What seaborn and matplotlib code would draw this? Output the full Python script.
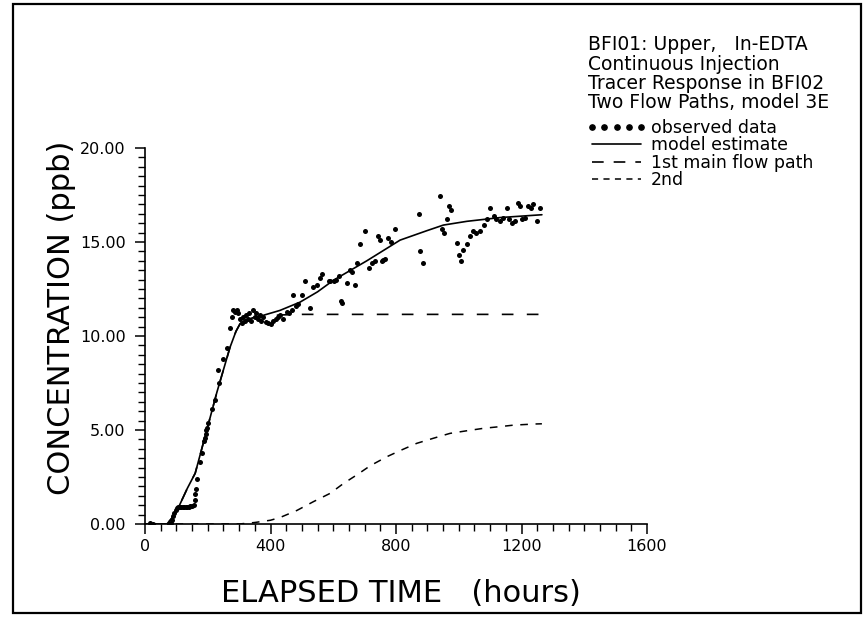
import numpy as np
import pandas as pd
import seaborn as sns
import matplotlib
matplotlib.use("Agg")
import matplotlib.pyplot as plt
from matplotlib.lines import Line2D
from matplotlib.patches import Rectangle
from matplotlib.ticker import MultipleLocator, FormatStrFormatter
import matplotlib.font_manager as fm

# ---------------- data ----------------
obs_hours = [16, 24, 78, 82, 86, 90, 94, 98, 102, 106, 110, 115, 120, 125, 130, 135, 140,
             145, 150, 155, 158, 160, 162, 165, 175, 181, 188, 191, 194, 196, 198, 202,
             213, 223, 232, 236, 250, 260, 271, 278, 282, 287, 292, 297, 303, 308, 313,
             318, 323, 328, 333, 338, 345, 350, 355, 360, 365, 370, 377, 385, 393, 400,
             409, 418, 425, 430, 440, 452, 460, 468, 473, 480, 489, 500, 510, 526, 537,
             548, 558, 563, 585, 590, 601, 610, 617, 625, 629, 643, 654, 660, 670, 675,
             686, 702, 713, 723, 733, 744, 748, 755, 760, 766, 776, 785, 797, 872, 877,
             886, 939, 947, 952, 963, 970, 975, 994, 1002, 1007, 1015, 1026, 1037, 1047,
             1055, 1069, 1080, 1090, 1100, 1111, 1120, 1132, 1142, 1153, 1160, 1169,
             1180, 1190, 1195, 1201, 1210, 1222, 1230, 1238, 1249, 1258]
obs_conc = [0.05, 0.0, 0.0, 0.05, 0.2, 0.4, 0.6, 0.75, 0.85, 0.9, 0.92, 0.9, 0.92, 0.9, 0.92,
            0.9, 0.93, 0.95, 0.95, 1.0, 1.3, 1.6, 1.85, 2.4, 3.3, 3.8, 4.4, 4.6, 4.8, 5.0,
            5.1, 5.35, 6.1, 6.6, 8.2, 7.5, 8.8, 9.35, 10.4, 11.0, 11.4, 11.3, 11.4, 11.2,
            10.9, 10.7, 11.0, 10.8, 11.1, 10.9, 11.2, 10.8, 11.4, 11.0, 11.2, 10.9, 11.1,
            10.8, 11.0, 10.75, 10.7, 10.65, 10.8, 10.9, 11.0, 11.1, 10.9, 11.3, 11.2, 11.4,
            12.2, 11.6, 11.7, 12.2, 12.95, 11.5, 12.6, 12.7, 13.1, 13.3, 12.9, 12.95, 12.9,
            13.0, 13.2, 11.85, 11.75, 12.8, 13.5, 13.4, 12.7, 13.9, 14.9, 15.6, 13.6, 13.9,
            14.0, 15.3, 15.1, 14.0, 14.05, 14.1, 15.2, 15.0, 15.7, 16.5, 14.5, 13.9, 17.45,
            15.7, 15.5, 16.2, 16.9, 16.7, 14.96, 14.3, 14.0, 14.6, 14.9, 15.3, 15.6, 15.5,
            15.6, 15.9, 16.2, 16.8, 16.4, 16.2, 16.1, 16.3, 16.8, 16.2, 16.0, 16.1, 17.1,
            16.9, 16.2, 16.3, 16.9, 16.8, 17.0, 16.1, 16.8]

model_hours = [0, 70, 85, 110, 135, 160, 197, 229, 271, 290, 303, 320, 350, 377, 430, 494,
               550, 601, 707, 813, 898, 951, 1026, 1132, 1265]
model_conc = [0, 0, 0.3, 1.0, 1.9, 2.7, 5.0, 7.0, 9.4, 10.25, 10.65, 10.85, 11.0, 11.1,
              11.36, 11.8, 12.35, 12.97, 14.0, 15.1, 15.6, 15.9, 16.1, 16.3, 16.45]

path1_hours = [0, 70, 85, 110, 135, 160, 197, 229, 271, 290, 303, 320, 350, 377, 430, 500,
               700, 1000, 1265]
path1_conc = [0, 0, 0.3, 1.0, 1.9, 2.7, 5.0, 7.0, 9.4, 10.25, 10.65, 10.85, 11.0, 11.05,
              11.12, 11.15, 11.15, 11.15, 11.15]

path2_hours = [0, 300, 350, 400, 431, 484, 537, 590, 633, 675, 718, 771, 818, 866, 919,
               972, 1026, 1079, 1132, 1175, 1244, 1265]
path2_conc = [0, 0, 0.08, 0.2, 0.35, 0.72, 1.19, 1.63, 2.16, 2.61, 3.1, 3.58, 3.94, 4.29,
              4.56, 4.82, 4.96, 5.09, 5.18, 5.26, 5.32, 5.33]

header_lines = ["BFI01: Upper,   In-EDTA", "Continuous Injection",
                "Tracer Response in BFI02", "Two Flow Paths, model 3E"]
legend_labels = ["observed data", "model estimate", "1st main flow path", "2nd"]
x_ticks = [0, 400, 800, 1200, 1600]

# ---------------- style ----------------
sns.set_style("ticks")
plt.rcParams['font.family'] = ['DejaVu Sans']

names = {f.name for f in fm.fontManager.ttflist}
if 'Liberation Sans Narrow' in names:
    label_family = ['Liberation Sans Narrow', 'DejaVu Sans']
    label_size = 26
else:
    label_family = ['DejaVu Sans']
    label_size = 22

fig = plt.figure(figsize=(8.66, 6.17), dpi=100)
ax = fig.add_axes([145 / 866, 1 - 524 / 617, 502 / 866, 376 / 617])

obs = pd.DataFrame({"hours": obs_hours, "conc": obs_conc})
model = pd.DataFrame({"hours": model_hours, "conc": model_conc})
p1 = pd.DataFrame({"hours": path1_hours, "conc": path1_conc})
p2 = pd.DataFrame({"hours": path2_hours, "conc": path2_conc})

sns.lineplot(data=p2, x="hours", y="conc", ax=ax, color="black", lw=1.1,
             sort=False, estimator=None)
ax.lines[-1].set_dashes((5, 5))
sns.lineplot(data=p1, x="hours", y="conc", ax=ax, color="black", lw=1.2,
             sort=False, estimator=None)
ax.lines[-1].set_dashes((7, 8))
sns.lineplot(data=model, x="hours", y="conc", ax=ax, color="black", lw=1.2,
             sort=False, estimator=None)
sns.scatterplot(data=obs, x="hours", y="conc", ax=ax, color="black", s=13,
                linewidth=0, zorder=5)

ax.set_xlim(0, 1600)
ax.set_ylim(0, 20)
ax.set_xticks(x_ticks)
ax.xaxis.set_minor_locator(MultipleLocator(50))
ax.yaxis.set_major_locator(MultipleLocator(5))
ax.yaxis.set_minor_locator(MultipleLocator(0.5))
ax.yaxis.set_major_formatter(FormatStrFormatter('%.2f'))
ax.tick_params(axis='both', which='major', direction='out', length=7, width=1.1,
               labelsize=11.5, color='black', labelcolor='black')
ax.tick_params(axis='both', which='minor', direction='out', length=5, width=1.0,
               color='black')
ax.tick_params(axis='y', which='major', pad=7)
ax.tick_params(axis='x', which='major', pad=4)

sns.despine(ax=ax)
for s in ("left", "bottom"):
    ax.spines[s].set_linewidth(1.2)
    ax.spines[s].set_color("black")

ax.set_xlabel("ELAPSED TIME   (hours)", fontsize=label_size, family=label_family,
              va='center', ha='center', color='black')
ax.xaxis.set_label_coords(0.51, -0.186)
ax.set_ylabel("CONCENTRATION (ppb)", fontsize=label_size, family=label_family,
              va='center', ha='center', rotation=90, color='black')
ax.yaxis.set_label_coords(-0.167, 0.548)

# header text
for i, line in enumerate(header_lines):
    fig.text(588 / 866, 1 - (45 + 19.2 * i) / 617, line, fontsize=13.5,
             va='center', ha='left', color='black')

handles = [
    Line2D([], [], color='black', marker='o', linestyle='', markersize=3.8),
    Line2D([], [], color='black', lw=1.2),
    Line2D([], [], color='black', lw=1.2, dashes=(7, 6)),
    Line2D([], [], color='black', lw=1.1, dashes=(4, 3.5)),
]
leg = ax.legend(handles, legend_labels, loc='upper left',
                bbox_to_anchor=(587 / 866, 1 - 119 / 617), bbox_transform=fig.transFigure,
                frameon=False, fontsize=12.5, numpoints=5, handlelength=3.4,
                handletextpad=0.3, labelspacing=-0.04, borderpad=0, borderaxespad=0)
for t in leg.get_texts():
    t.set_color('black')

fig.patches.append(Rectangle((13 / 866, 4 / 617), 848 / 866, 609 / 617,
                             transform=fig.transFigure, fill=False,
                             edgecolor='black', lw=1.6))

fig.savefig("out.png", dpi=100)
